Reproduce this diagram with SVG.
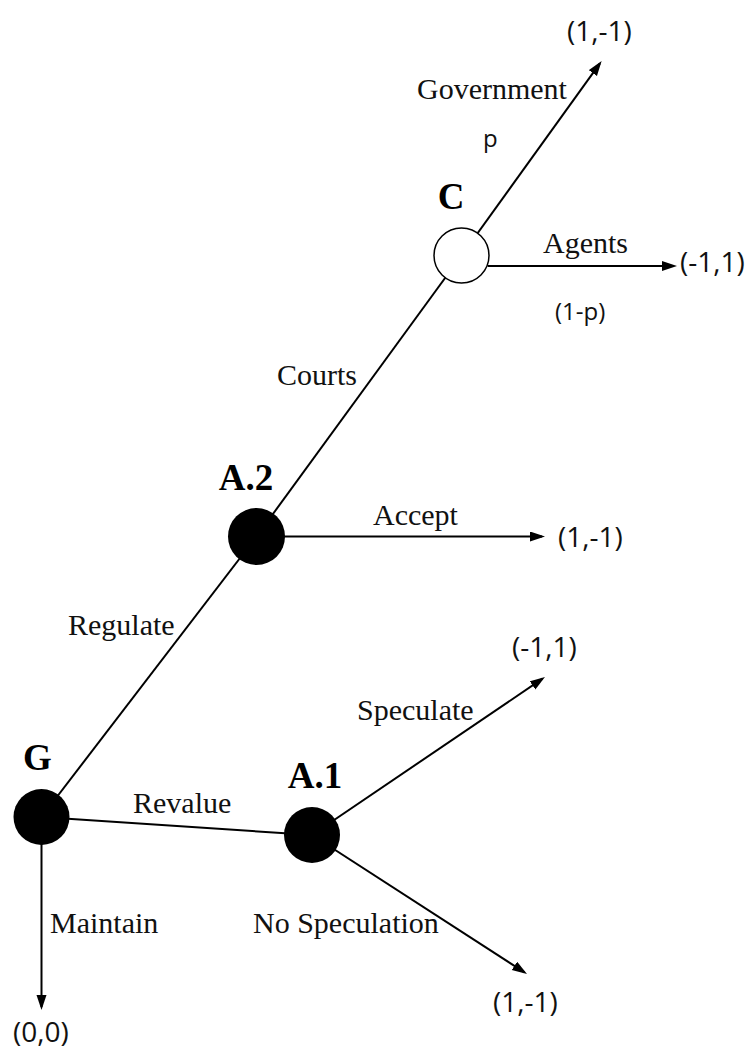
<svg xmlns="http://www.w3.org/2000/svg" width="749" height="1051" viewBox="0 0 749 1051">
  <style>
    .edge { stroke: #000; stroke-width: 2; fill: none; }
    .arrow { marker-end: url(#head); }
    .move { font-family: "Liberation Serif", "Times New Roman", serif; font-size: 30px; fill: #111; }
    .player { font-family: "Liberation Serif", "Times New Roman", serif; font-size: 37px; font-weight: bold; fill: #000; text-anchor: middle; }
    .payoff { font-family: "Open Sans", "Noto Sans", sans-serif; font-size: 28px; fill: #111; }
    .prob { font-family: "Open Sans", "Noto Sans", sans-serif; font-size: 24px; fill: #111; }
    .decision { fill: #000; }
    .chance { fill: #fff; stroke: #000; stroke-width: 1.5; }
  </style>
  <defs>
    <marker id="head" markerUnits="userSpaceOnUse" markerWidth="16" markerHeight="11" refX="12" refY="5" orient="auto">
      <path d="M0,0 L15,5 L0,10 z" fill="#000"/>
    </marker>
  </defs>

  <rect width="749" height="1051" fill="#fff"/>

  <!-- branches of the game tree -->
  <g id="connectors">
    <g id="edge-regulate">
      <line class="edge" x1="41.5" y1="817" x2="256.5" y2="536.5"/>
      <text class="move" x="68" y="635">Regulate</text>
    </g>
    <g id="edge-revalue">
      <line class="edge" x1="41.5" y1="817" x2="312" y2="835"/>
      <text class="move" x="133" y="813">Revalue</text>
    </g>
    <g id="edge-maintain">
      <line class="edge arrow" x1="41.5" y1="817" x2="41.5" y2="1007"/>
      <text class="move" x="50" y="933">Maintain</text>
    </g>
    <g id="edge-courts">
      <line class="edge" x1="256.5" y1="536.5" x2="461.5" y2="255.5"/>
      <text class="move" x="277" y="385">Courts</text>
    </g>
    <g id="edge-accept">
      <line class="edge arrow" x1="256.5" y1="536.5" x2="542" y2="536.5"/>
      <text class="move" x="373" y="525">Accept</text>
    </g>
    <g id="edge-government">
      <line class="edge arrow" x1="461.5" y1="255.5" x2="599.9" y2="63.4"/>
      <text class="move" x="417" y="99">Government</text>
      <text class="prob" x="483" y="147">p</text>
    </g>
    <g id="edge-agents">
      <line class="edge arrow" x1="487.7" y1="266" x2="674" y2="266"/>
      <text class="move" x="543" y="253">Agents</text>
      <text class="prob" x="555" y="320">(1-p)</text>
    </g>
    <g id="edge-speculate">
      <line class="edge arrow" x1="312" y1="835" x2="542.5" y2="678.7"/>
      <text class="move" x="357" y="720">Speculate</text>
    </g>
    <g id="edge-nospeculation">
      <line class="edge arrow" x1="312" y1="835" x2="524.5" y2="972.4"/>
      <text class="move" x="253" y="933">No Speculation</text>
    </g>
  </g>

  <!-- decision and chance nodes -->
  <g id="node-G">
    <circle class="decision" cx="41.5" cy="817" r="28"/>
    <text class="player" x="37.5" y="770">G</text>
  </g>
  <g id="node-A1">
    <circle class="decision" cx="312" cy="835" r="28"/>
    <text class="player" x="315" y="788">A.1</text>
  </g>
  <g id="node-A2">
    <circle class="decision" cx="256.5" cy="536.5" r="28.5"/>
    <text class="player" x="246" y="490">A.2</text>
  </g>
  <g id="node-C">
    <circle class="chance" cx="461.5" cy="255.5" r="27.5"/>
    <text class="player" x="451" y="209">C</text>
  </g>

  <!-- terminal payoffs -->
  <g id="payoffs">
    <text class="payoff" x="567" y="41">(1,-1)</text>
    <text class="payoff" x="680" y="272">(-1,1)</text>
    <text class="payoff" x="558" y="547">(1,-1)</text>
    <text class="payoff" x="512" y="657">(-1,1)</text>
    <text class="payoff" x="493" y="1012">(1,-1)</text>
    <text class="payoff" x="13" y="1042">(0,0)</text>
  </g>
</svg>
